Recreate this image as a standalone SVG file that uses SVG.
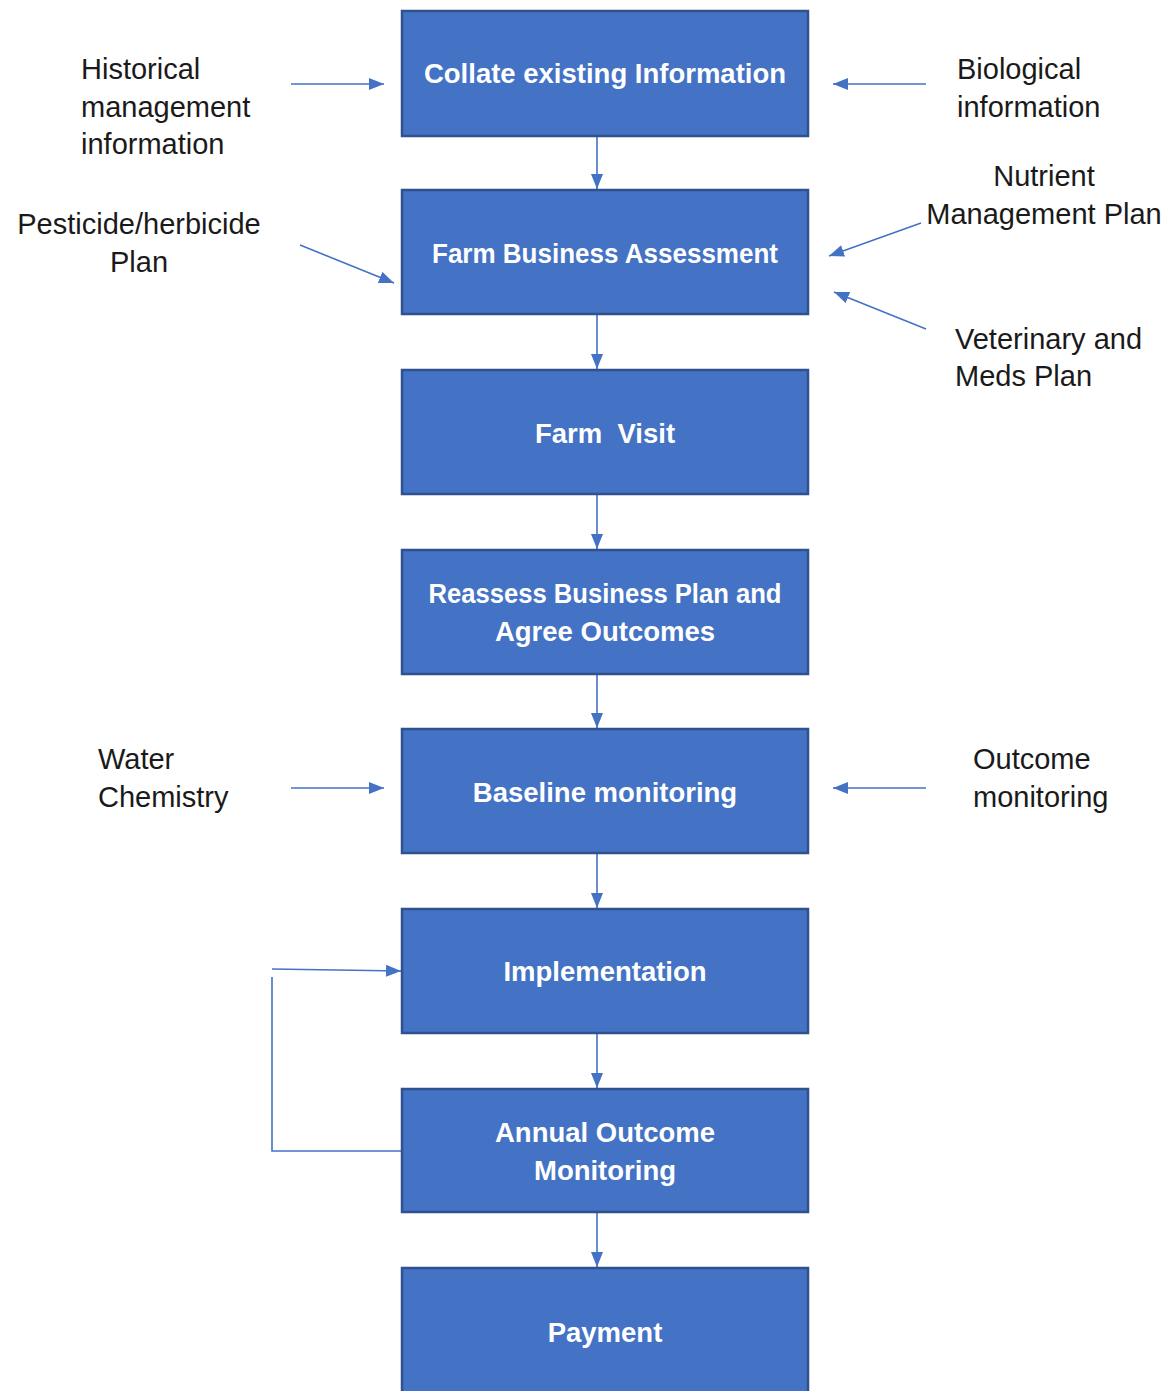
<svg xmlns="http://www.w3.org/2000/svg" width="1167" height="1391" viewBox="0 0 1167 1391">
<defs>
<style>
.box{fill:#4472C4;stroke:#2F528F;stroke-width:2.5}
.bt{font-family:"Liberation Sans",Arial,sans-serif;font-weight:bold;font-size:27.5px;fill:#FFFFFF;text-anchor:middle}
.lt{font-family:"Liberation Sans",Arial,sans-serif;font-size:29px;fill:#1A1A1A}
.c{stroke:#4472C4;stroke-width:1.6;fill:none}
</style>
<marker id="ah" viewBox="0 0 15 12" refX="15" refY="6" markerWidth="15" markerHeight="12" markerUnits="userSpaceOnUse" orient="auto">
<path d="M0,0 L15,6 L0,12 Z" fill="#4472C4"/>
</marker>
</defs>
<rect width="1167" height="1391" fill="#FFFFFF"/>

<g id="connectors">
<line class="c" x1="597" y1="137" x2="597" y2="189" marker-end="url(#ah)"/>
<line class="c" x1="597" y1="315" x2="597" y2="369" marker-end="url(#ah)"/>
<line class="c" x1="597" y1="495" x2="597" y2="549" marker-end="url(#ah)"/>
<line class="c" x1="597" y1="675" x2="597" y2="728" marker-end="url(#ah)"/>
<line class="c" x1="597" y1="854" x2="597" y2="908" marker-end="url(#ah)"/>
<line class="c" x1="597" y1="1034" x2="597" y2="1088" marker-end="url(#ah)"/>
<line class="c" x1="597" y1="1213" x2="597" y2="1267" marker-end="url(#ah)"/>
<line class="c" x1="291" y1="84" x2="384" y2="84" marker-end="url(#ah)"/>
<line class="c" x1="926" y1="84" x2="833" y2="84" marker-end="url(#ah)"/>
<line class="c" x1="300" y1="245" x2="394" y2="283" marker-end="url(#ah)"/>
<line class="c" x1="921" y1="223" x2="829" y2="256" marker-end="url(#ah)"/>
<line class="c" x1="926" y1="329" x2="834" y2="292" marker-end="url(#ah)"/>
<line class="c" x1="291" y1="788" x2="384" y2="788" marker-end="url(#ah)"/>
<line class="c" x1="926" y1="788" x2="833" y2="788" marker-end="url(#ah)"/>
<polyline class="c" points="402,1151 272,1151 272,977"/>
<line class="c" x1="272" y1="969" x2="401" y2="971" marker-end="url(#ah)"/>
</g>

<g id="n1"><rect class="box" x="402" y="11" width="406" height="125"/><text class="bt" x="605" y="83">Collate existing Information</text></g>
<g id="n2"><rect class="box" x="402" y="190" width="406" height="124"/><text class="bt" x="605" y="263" textLength="346" lengthAdjust="spacingAndGlyphs">Farm Business Assessment</text></g>
<g id="n3"><rect class="box" x="402" y="370" width="406" height="124"/><text class="bt" x="605" y="443" xml:space="preserve">Farm  Visit</text></g>
<g id="n4"><rect class="box" x="402" y="550" width="406" height="124"/><text class="bt" x="605" y="603" textLength="353" lengthAdjust="spacingAndGlyphs">Reassess Business Plan and</text><text class="bt" x="605" y="641">Agree Outcomes</text></g>
<g id="n5"><rect class="box" x="402" y="729" width="406" height="124"/><text class="bt" x="605" y="802">Baseline monitoring</text></g>
<g id="n6"><rect class="box" x="402" y="909" width="406" height="124"/><text class="bt" x="605" y="981">Implementation</text></g>
<g id="n7"><rect class="box" x="402" y="1089" width="406" height="123"/><text class="bt" x="605" y="1142">Annual Outcome</text><text class="bt" x="605" y="1180">Monitoring</text></g>
<g id="n8"><rect class="box" x="402" y="1268" width="406" height="130"/><text class="bt" x="605" y="1342">Payment</text></g>

<g id="l1"><text class="lt" x="81" y="79">Historical</text><text class="lt" x="81" y="117">management</text><text class="lt" x="81" y="154">information</text></g>
<g id="l2"><text class="lt" x="139" y="234" text-anchor="middle">Pesticide/herbicide</text><text class="lt" x="139" y="272" text-anchor="middle">Plan</text></g>
<g id="l3"><text class="lt" x="957" y="79">Biological</text><text class="lt" x="957" y="117">information</text></g>
<g id="l4"><text class="lt" x="1044" y="186" text-anchor="middle">Nutrient</text><text class="lt" x="1044" y="224" text-anchor="middle">Management Plan</text></g>
<g id="l5"><text class="lt" x="955" y="349">Veterinary and</text><text class="lt" x="955" y="386">Meds Plan</text></g>
<g id="l6"><text class="lt" x="98" y="769">Water</text><text class="lt" x="98" y="807">Chemistry</text></g>
<g id="l7"><text class="lt" x="973" y="769">Outcome</text><text class="lt" x="973" y="807">monitoring</text></g>
</svg>
